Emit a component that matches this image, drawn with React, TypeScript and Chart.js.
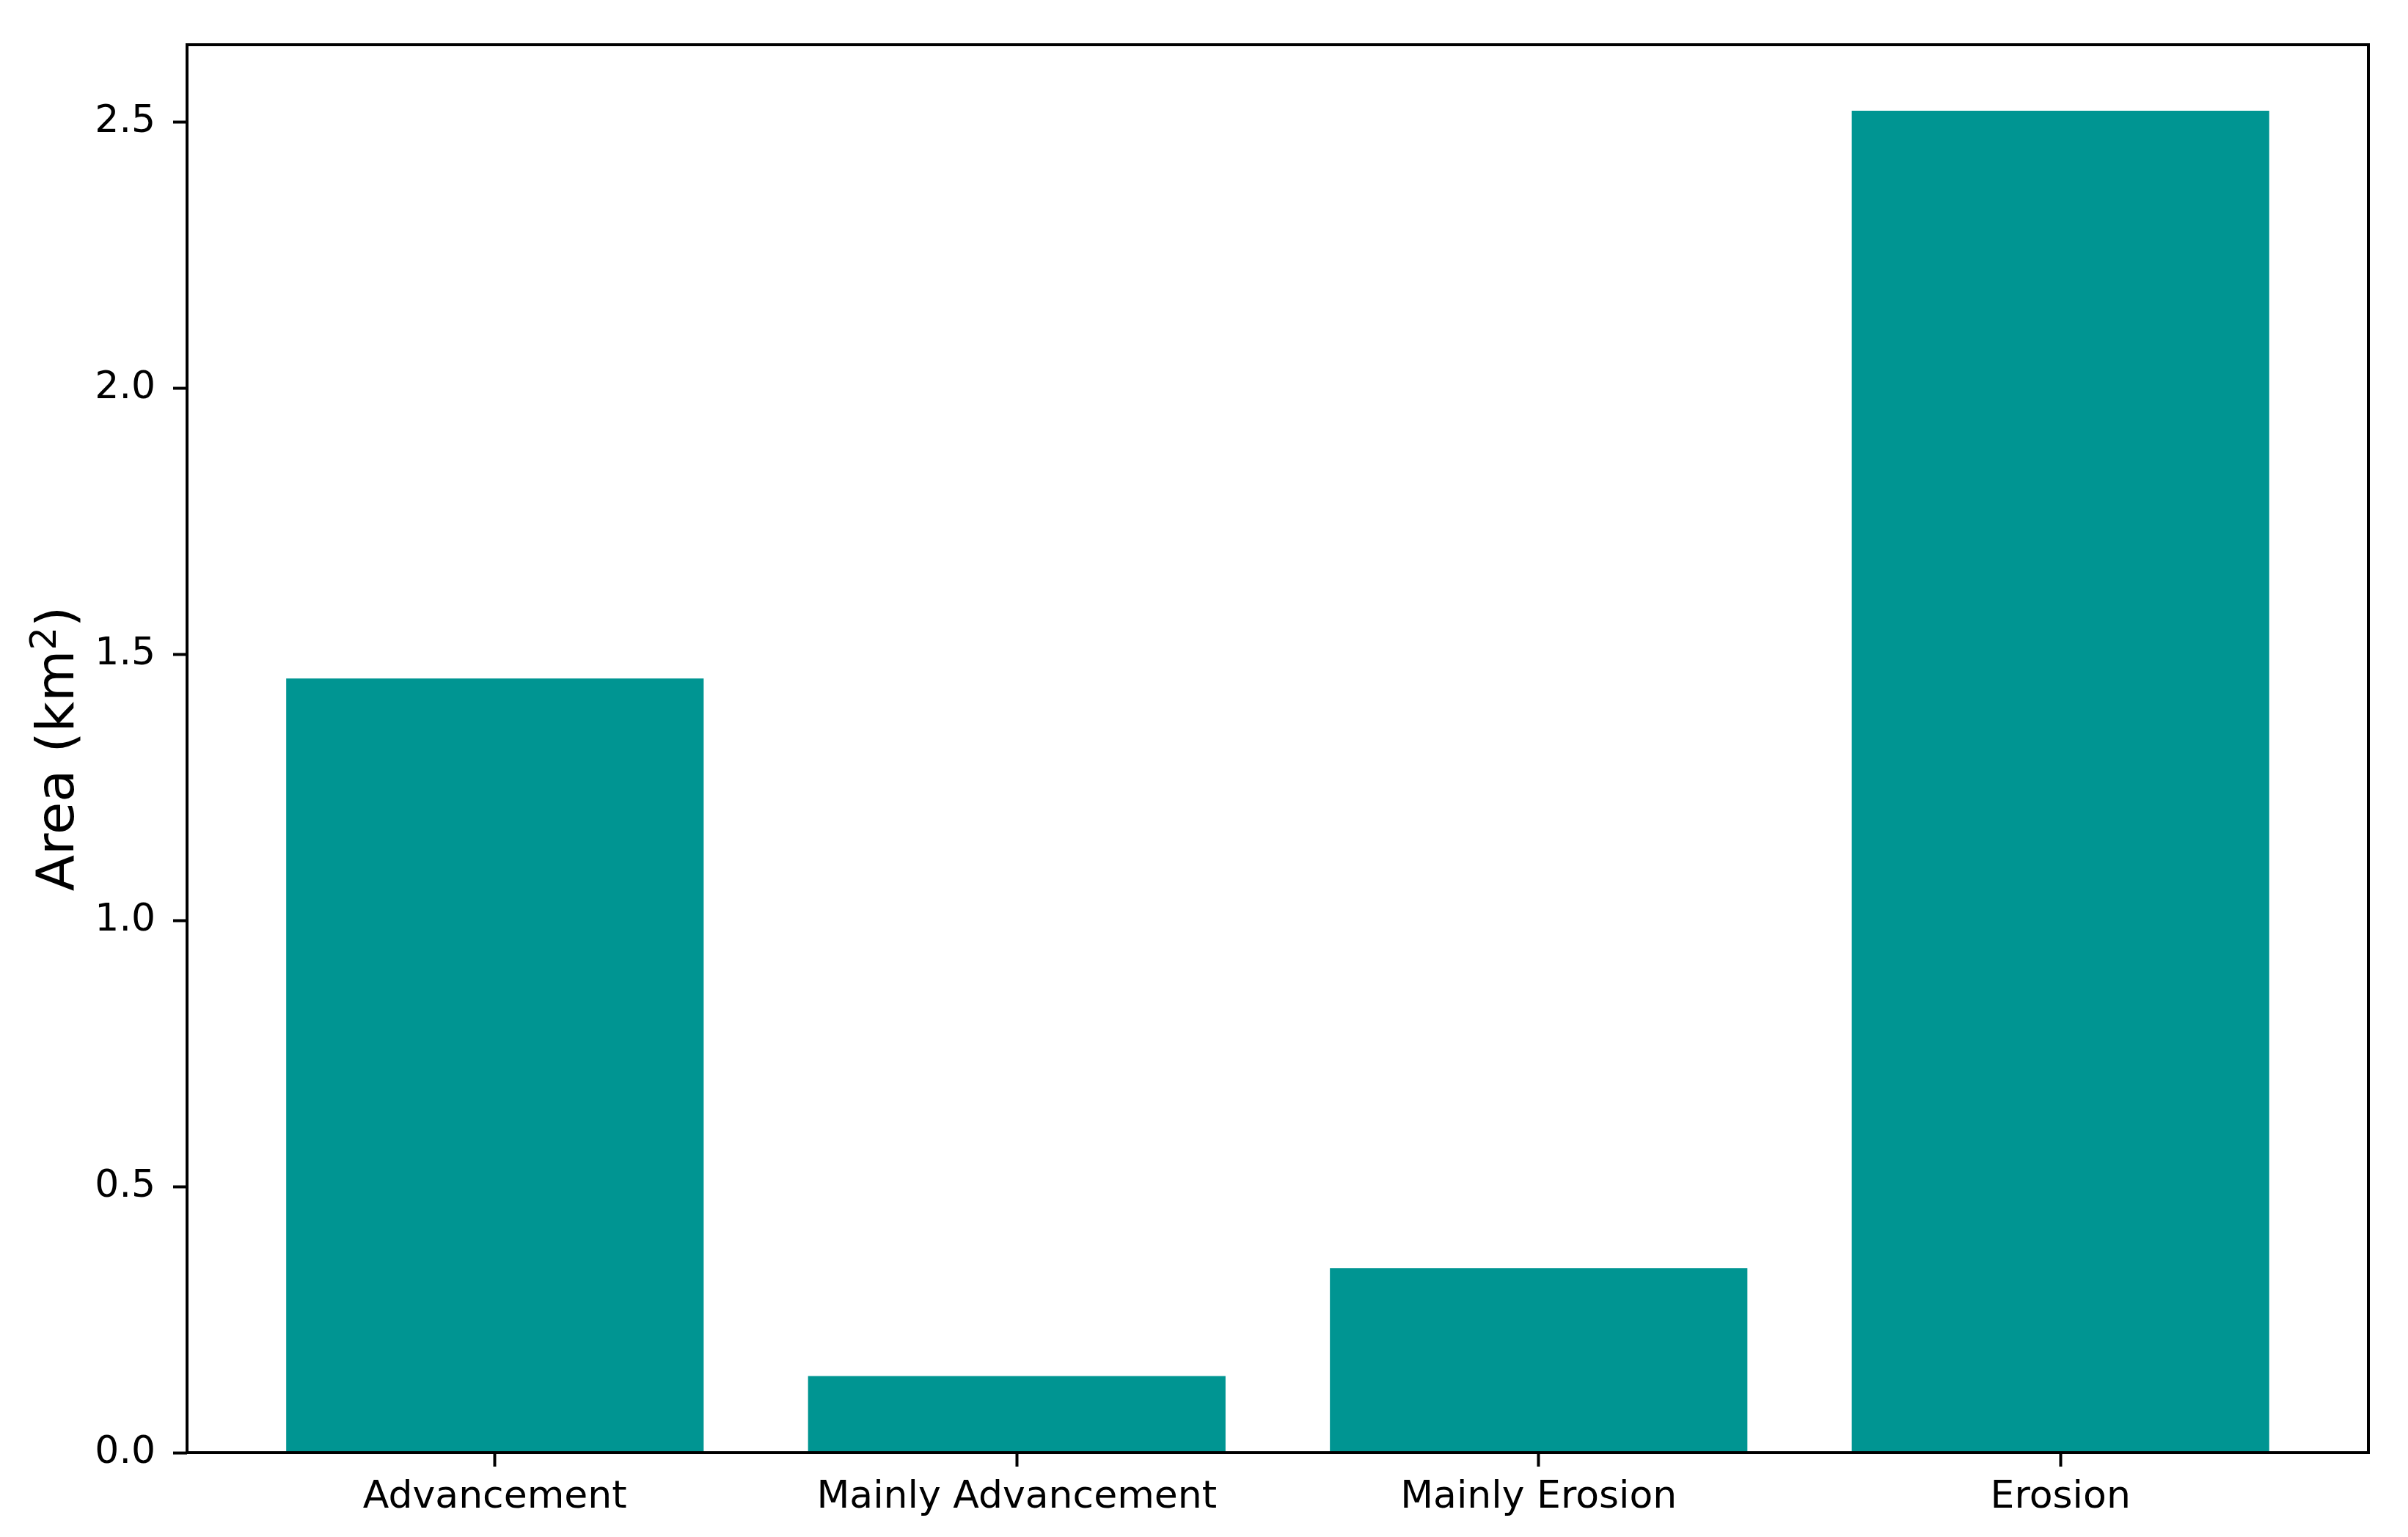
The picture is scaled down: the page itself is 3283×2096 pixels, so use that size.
import React, { useEffect, useRef } from "react";
import { Chart, registerables } from "chart.js";

Chart.register(...registerables);

const categories = ["Advancement", "Mainly Advancement", "Mainly Erosion", "Erosion"];
const areaValues = [1.455, 0.144, 0.347, 2.522];
const yTickStep = 0.5;
const yMax = 2.646;
const xMin = -0.59;
const xMax = 3.59;
const yAxisLabel = "Area (km";
const yAxisSup = "2";
const yAxisClose = ")";
const barColor = "#009592";

const W = 3283;
const H = 2096;
const FONT = "DejaVu Sans";

export default function App() {
  const ref = useRef<HTMLCanvasElement>(null);

  useEffect(() => {
    const canvas = ref.current;
    if (!canvas) return;

    const framePlugin = {
      id: "frame",
      afterDatasetsDraw(chart: any) {
        const { ctx, chartArea } = chart;
        const { left, top, right, bottom } = chartArea;
        ctx.save();
        ctx.strokeStyle = "#000";
        ctx.lineWidth = 4;
        ctx.strokeRect(left, top, right - left, bottom - top);
        ctx.restore();
      },
    };

    const yTitlePlugin = {
      id: "ytitle",
      afterDraw(chart: any) {
        const ctx = chart.ctx;
        const { top, bottom } = chart.chartArea;
        const cy = (top + bottom) / 2;
        const main = `72px "${FONT}"`;
        const sup = `50px "${FONT}"`;
        ctx.save();
        ctx.font = main;
        const w1 = ctx.measureText(yAxisLabel).width;
        const w3 = ctx.measureText(yAxisClose).width;
        ctx.font = sup;
        const w2 = ctx.measureText(yAxisSup).width;
        const total = w1 + w2 + w3;
        ctx.translate(100, cy);
        ctx.rotate(-Math.PI / 2);
        ctx.fillStyle = "#000";
        ctx.textBaseline = "alphabetic";
        ctx.textAlign = "left";
        let x = -total / 2;
        ctx.font = main;
        ctx.fillText(yAxisLabel, x, 0);
        x += w1;
        ctx.font = sup;
        ctx.fillText(yAxisSup, x, -24);
        x += w2;
        ctx.font = main;
        ctx.fillText(yAxisClose, x, 0);
        ctx.restore();
      },
    };

    const chart = new Chart(canvas, {
      type: "bar",
      data: {
        datasets: [
          {
            data: areaValues.map((v, i) => ({ x: i, y: v })),
            backgroundColor: barColor,
            borderWidth: 0,
            barPercentage: 0.8,
            categoryPercentage: 1.0,
          },
        ],
      },
      options: {
        responsive: false,
        animation: false,
        devicePixelRatio: 1,
        layout: { padding: { top: 61, right: 54, left: 0, bottom: 0 } },
        plugins: {
          legend: { display: false },
          tooltip: { enabled: false },
          title: { display: false },
        },
        scales: {
          x: {
            type: "linear",
            min: xMin,
            max: xMax,
            offset: false,
            afterBuildTicks: (s: any) => {
              s.ticks = categories.map((_, i) => ({ value: i }));
            },
            afterFit: (s: any) => {
              s.height = 115;
            },
            grid: {
              offset: false,
              drawOnChartArea: false,
              drawTicks: true,
              tickLength: 19,
              tickColor: "#000",
              tickWidth: 4,
            },
            border: { display: false },
            ticks: {
              callback: (v: any) => categories[Math.round(Number(v))] ?? "",
              font: { family: FONT, size: 52 },
              color: "#000",
              padding: 11,
              maxRotation: 0,
              autoSkip: false,
            },
          },
          y: {
            type: "linear",
            min: 0,
            max: yMax,
            afterFit: (s: any) => {
              s.width = 255;
            },
            grid: {
              drawOnChartArea: false,
              drawTicks: true,
              tickLength: 19,
              tickColor: "#000",
              tickWidth: 4,
            },
            border: { display: false },
            ticks: {
              stepSize: yTickStep,
              includeBounds: false,
              callback: (v: any) => Number(v).toFixed(1),
              font: { family: FONT, size: 52 },
              color: "#000",
              padding: 24,
            },
          },
        },
      },
      plugins: [framePlugin, yTitlePlugin],
    } as any);

    return () => chart.destroy();
  }, []);

  return (
    <div style={{ position: "fixed", left: 0, top: 0, width: W, height: H, background: "#fff" }}>
      <canvas ref={ref} width={W} height={H} style={{ width: W, height: H, display: "block" }} />
    </div>
  );
}
